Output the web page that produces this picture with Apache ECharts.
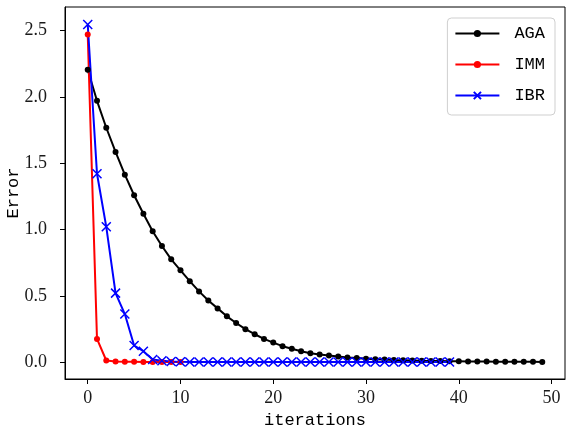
<!DOCTYPE html>
<html>
<head>
<meta charset="utf-8">
<script src="https://cdn.jsdelivr.net/npm/echarts@6/dist/echarts.min.js"></script>
<style>
  html, body { margin: 0; padding: 0; background: #fff; }
  #chart { width: 573px; height: 433px; }
</style>
</head>
<body>
<div id="chart"></div>
<script>
// error per iteration
const agaError = [
  2.205, 1.97, 1.767, 1.585, 1.413, 1.258, 1.118, 0.987, 0.875, 0.775,
  0.692, 0.61, 0.533, 0.464, 0.405, 0.345, 0.295, 0.248, 0.21, 0.175,
  0.147, 0.12, 0.1, 0.082, 0.067, 0.057, 0.05, 0.042, 0.035, 0.03,
  0.026, 0.022, 0.019, 0.016, 0.014, 0.012, 0.01, 0.009, 0.008, 0.007,
  0.006, 0.005, 0.004, 0.004, 0.003, 0.003, 0.002, 0.002, 0.002, 0.001
]
const immError = [2.47, 0.175, 0.012, 0.005, 0.003, 0.002, 0.001, 0.001, 0.0, 0.0, 0.0]
const ibrError = [
  2.546, 1.42, 1.02, 0.52, 0.362, 0.125, 0.082, 0.02, 0.01, 0.005,
  0.002, 0.001, 0, 0, 0, 0, 0, 0, 0, 0,
  0, 0, 0, 0, 0, 0, 0, 0, 0, 0,
  0, 0, 0, 0, 0, 0, 0, 0, 0, 0
]
const xTicks = [0, 10, 20, 30, 40, 50]
const yTicks = [0, 0.5, 1.0, 1.5, 2.0, 2.5]

const toPoints = arr => arr.map((v, i) => [i, v])

const serif = 'Liberation Serif'
const mono = 'Liberation Mono'
const crossPath = 'path://M0,0L10,10M10,0L0,10'

const chart = echarts.init(document.getElementById('chart'))
const option = {
  animation: false,
  backgroundColor: '#fff',
  grid: {
    left: 65,
    right: 8,
    top: 7,
    bottom: 54,
    outerBoundsMode: 'none',
    containLabel: false,
    show: true,
    borderColor: '#000',
    borderWidth: 1
  },
  legend: {
    orient: 'vertical',
    right: 18,
    top: 18,
    itemWidth: 44,
    itemHeight: 9,
    itemGap: 14,
    padding: [7, 10, 11, 7],
    borderColor: '#cfcfcf',
    borderWidth: 1,
    borderRadius: 4,
    backgroundColor: '#fff',
    textStyle: {
      fontFamily: mono,
      fontSize: 17,
      color: '#000',
      padding: [0, 0, 0, 10]
    },
    data: ['AGA', 'IMM', 'IBR']
  },
  xAxis: {
    type: 'value',
    min: -2.45,
    max: 51.45,
    name: 'iterations',
    nameLocation: 'middle',
    nameGap: 33,
    nameMoveOverlap: false,
    nameTextStyle: { fontFamily: mono, fontSize: 17, color: '#000' },
    axisLine: { show: true, onZero: false, lineStyle: { color: '#000', width: 1 } },
    axisTick: { show: true, length: 5, customValues: xTicks, lineStyle: { color: '#000' } },
    axisLabel: {
      customValues: xTicks,
      margin: 10,
      fontFamily: serif,
      fontSize: 18,
      color: '#1a1a1a'
    },
    splitLine: { show: false }
  },
  yAxis: {
    type: 'value',
    min: -0.1275,
    max: 2.6775,
    name: 'Error',
    nameLocation: 'middle',
    nameGap: 43,
    nameMoveOverlap: false,
    nameTextStyle: { fontFamily: mono, fontSize: 17, color: '#000' },
    axisLine: { show: true, onZero: false, lineStyle: { color: '#000', width: 1 } },
    axisTick: { show: true, length: 5, customValues: yTicks, lineStyle: { color: '#000' } },
    axisLabel: {
      customValues: yTicks,
      margin: 18,
      fontFamily: serif,
      fontSize: 18,
      color: '#1a1a1a',
      formatter: v => v.toFixed(1)
    },
    splitLine: { show: false }
  },
  series: [
    {
      name: 'AGA',
      type: 'line',
      data: toPoints(agaError),
      symbol: 'circle',
      symbolSize: 6,
      showAllSymbol: true,
      lineStyle: { color: '#000', width: 2 },
      itemStyle: { color: '#000' }
    },
    {
      name: 'IMM',
      type: 'line',
      data: toPoints(immError),
      symbol: 'circle',
      symbolSize: 6,
      showAllSymbol: true,
      lineStyle: { color: '#ff0000', width: 2 },
      itemStyle: { color: '#ff0000' }
    },
    {
      name: 'IBR',
      type: 'line',
      data: toPoints(ibrError),
      symbol: crossPath,
      symbolSize: 9,
      showAllSymbol: true,
      lineStyle: { color: '#0000ff', width: 2 },
      itemStyle: { color: 'none', borderColor: '#0000ff', borderWidth: 1.5 }
    }
  ]
}
chart.setOption(option)
</script>
</body>
</html>
